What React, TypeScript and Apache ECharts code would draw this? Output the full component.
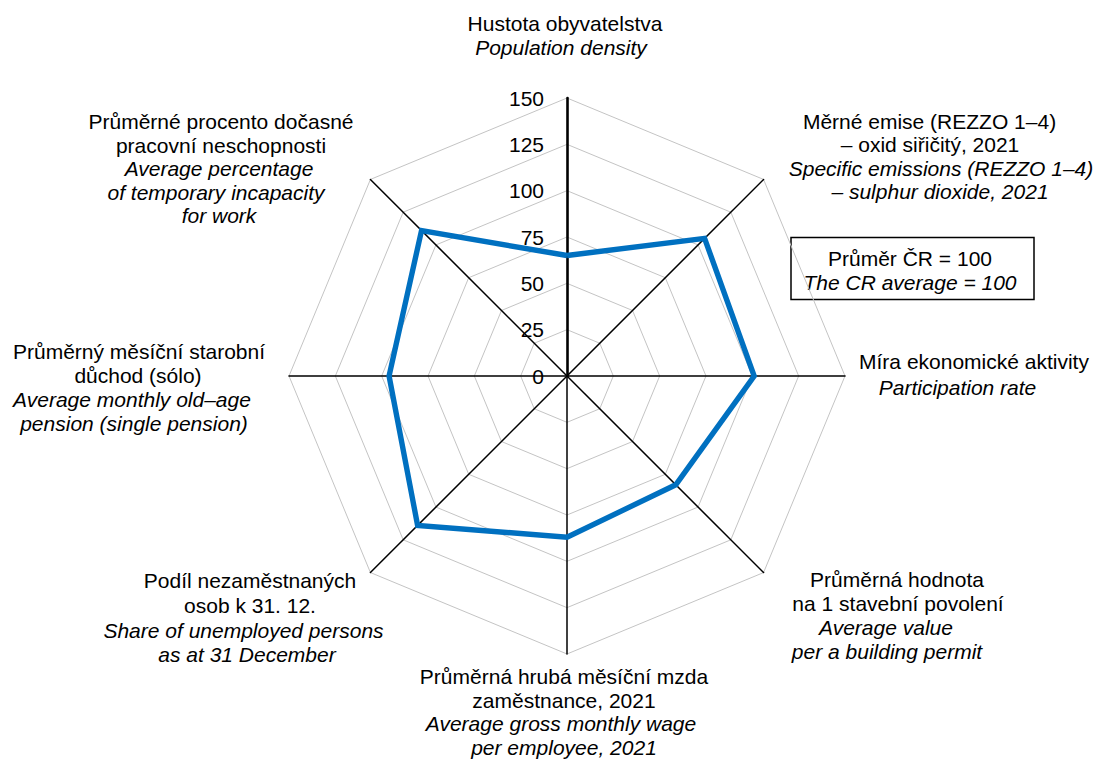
import React, { useEffect, useRef } from "react";
import * as echarts from "echarts";

// Indicators listed counter-clockwise from the top (ECharts radar order)
const indicatorKeys = [
  "density",
  "incapacity",
  "pension",
  "unemployed",
  "wage",
  "permit",
  "participation",
  "emissions",
];

// Index values (CR average = 100)
const values = [65, 111, 96, 114, 87, 83, 101, 105];

// Radial tick labels
const axisTicks = [0, 25, 50, 75, 100, 125, 150];

// Axis titles: Czech (regular) lines and English (italic) lines
const labelsCz = [
  ["Hustota obyvatelstva"],
  ["Průměrné procento dočasné", "pracovní neschopnosti"],
  ["Průměrný měsíční starobní", "důchod (sólo)"],
  ["Podíl nezaměstnaných", "osob k 31. 12."],
  ["Průměrná hrubá měsíční mzda", "zaměstnance, 2021"],
  ["Průměrná hodnota", "na 1 stavební povolení"],
  ["Míra ekonomické aktivity"],
  ["Měrné emise (REZZO 1–4)", "– oxid siřičitý, 2021"],
];
const labelsEn = [
  ["Population density"],
  ["Average percentage", "of temporary incapacity", "for work"],
  ["Average monthly old–age", "pension (single pension)"],
  ["Share of unemployed persons", "as at 31 December"],
  ["Average gross monthly wage", "per employee, 2021"],
  ["Average value", "per a building permit"],
  ["Participation rate"],
  ["Specific emissions (REZZO 1–4)", "– sulphur dioxide, 2021"],
];

const noteLines = ["Průměr ČR = 100", "The CR average = 100"];

// Layout of the title blocks: centre x of each line, top y, line height
const labelLayout: { xs: number[]; top: number; lh: number }[] = [
  { xs: [565, 561], top: 12, lh: 23.5 },
  { xs: [221, 221, 219, 216, 219], top: 110, lh: 23.5 },
  { xs: [139, 138, 132, 134], top: 340, lh: 23.8 },
  { xs: [250, 250, 243.5, 247], top: 568, lh: 24.8 },
  { xs: [564, 564, 561, 564], top: 665, lh: 23.5 },
  { xs: [897, 898, 886, 887], top: 568, lh: 23.9 },
  { xs: [974, 957.5], top: 348, lh: 26.5 },
  { xs: [929.5, 930, 941, 940], top: 110, lh: 23.2 },
];

const FONT = "'Liberation Sans', Arial, Helvetica, sans-serif";
const FS = 21;

export default function App() {
  const ref = useRef<HTMLDivElement>(null);

  useEffect(() => {
    if (!ref.current) return;
    const chart = echarts.init(ref.current, undefined, { renderer: "svg" });

    const graphics: any[] = [];
    indicatorKeys.forEach((_, i) => {
      const lay = labelLayout[i];
      const lines = [
        ...labelsCz[i].map((t) => ({ t, italic: false })),
        ...labelsEn[i].map((t) => ({ t, italic: true })),
      ];
      lines.forEach((ln, j) => {
        graphics.push({
          type: "text",
          x: lay.xs[j],
          y: lay.top + lay.lh * (j + 0.5),
          silent: true,
          style: {
            text: ln.t,
            fill: "#000",
            fontSize: FS,
            fontFamily: FONT,
            fontStyle: ln.italic ? "italic" : "normal",
            align: "center",
            verticalAlign: "middle",
            textAlign: "center",
            textVerticalAlign: "middle",
          },
        });
      });
    });

    // note box
    graphics.push({
      type: "rect",
      shape: { x: 791, y: 237.5, width: 243, height: 62 },
      style: { fill: "#fff", stroke: "#000", lineWidth: 1.5 },
      silent: true,
    });
    noteLines.forEach((t, j) => {
      graphics.push({
        type: "text",
        x: 910,
        y: 258.5 + j * 23.5,
        silent: true,
        style: {
          text: t,
          fill: "#000",
          fontSize: FS,
          fontFamily: FONT,
          fontStyle: j === 1 ? "italic" : "normal",
          align: "center",
          verticalAlign: "middle",
          textAlign: "center",
          textVerticalAlign: "middle",
        },
      });
    });

    const option: any = {
      animation: false,
      backgroundColor: "#fff",
      radar: {
        center: [567, 376],
        radius: 278,
        startAngle: 90,
        shape: "polygon",
        splitNumber: axisTicks.length - 1,
        indicator: indicatorKeys.map((k, i) => {
          const ind: any = {
            name: k,
            min: axisTicks[0],
            max: axisTicks[axisTicks.length - 1],
          };
          if (i === 0) {
            ind.axisLabel = { show: true };
            ind.axisLine = { lineStyle: { width: 2.6 } };
          }
          return ind;
        }),
        axisName: { show: false },
        axisLine: { show: true, lineStyle: { color: "#000", width: 1.5 } },
        axisTick: { show: false },
        axisLabel: {
          show: false,
          color: "#000",
          fontSize: FS,
          fontFamily: FONT,
          margin: 23,
        },
        splitLine: { lineStyle: { color: "#c4c4c4", width: 1 } },
        splitArea: { show: false },
      },
      series: [
        {
          type: "radar",
          symbol: "none",
          data: [{ value: values, name: "index" }],
          lineStyle: { color: "#0070C0", width: 5.4, join: "miter" },
          itemStyle: { color: "#0070C0" },
          z: 3,
        },
      ],
      graphic: graphics,
    };

    chart.setOption(option);
    return () => chart.dispose();
  }, []);

  return (
    <div
      ref={ref}
      style={{
        position: "fixed",
        left: 0,
        top: 0,
        width: 1097,
        height: 763,
        background: "#fff",
      }}
    />
  );
}
